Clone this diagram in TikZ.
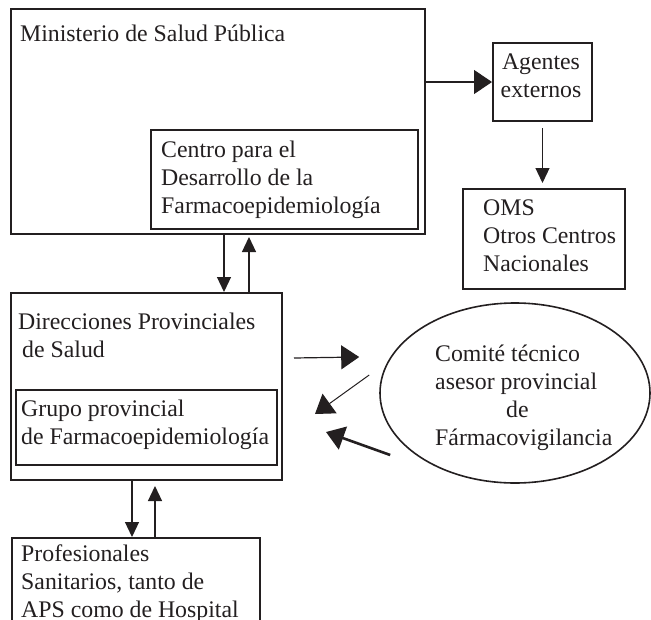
\documentclass[tikz,border=0pt]{standalone}
\usepackage{fontspec}
\setmainfont{Liberation Serif}
\usetikzlibrary{arrows.meta, calc, shapes.geometric}
\definecolor{inkbox}{HTML}{231F20}
\newcommand{\orgfont}{\fontsize{23.8}{28}\selectfont}

\begin{document}
\begin{tikzpicture}[x=1pt, y=-1pt,
    orgbox/.style={draw=inkbox, line width=2pt, inner sep=0pt, anchor=north west},
    orgtext/.style={font=\orgfont, text=inkbox, align=left, inner sep=0pt, anchor=base west},
    link/.style={draw=inkbox, line width=1.2pt},
    smallhead/.style={-{Triangle[length=15pt, width=14pt]}},
    bighead/.style={-{Triangle[length=18pt, width=24pt]}}]
  \useasboundingbox (0,0) rectangle (651,619);
  \clip (0,0) rectangle (651,619);
  % boxes
  \node[orgbox, minimum width=414pt, minimum height=225pt] (min) at (10,8) {};
  \node[orgbox, minimum width=267pt, minimum height=99pt] (cen) at (150,129) {};
  \node[orgbox, minimum width=99pt, minimum height=78pt] (age) at (492,42) {};
  \node[orgbox, minimum width=162pt, minimum height=100pt] (oms) at (462,188) {};
  \node[orgbox, minimum width=271pt, minimum height=187pt] (dir) at (10,292) {};
  \node[orgbox, minimum width=261pt, minimum height=75pt] (gru) at (15,389) {};
  \node[orgbox, minimum width=248pt, minimum height=110pt] (pro) at (11,537) {};
  \node[ellipse, draw=inkbox, line width=1.6pt, minimum width=270pt, minimum height=180pt] (ell) at (515,393) {};
  % texts (anchored on the baseline of the last line)
  \node[orgtext] (minT) at (20,41) {Ministerio de Salud Pública};
  \node[orgtext] (cenT) at (161,213) {Centro para el\\Desarrollo de la\\Farmacoepidemiología};
  \node[orgtext, align=center, anchor=base] (ageT) at (541,97) {Agentes\\externos};
  \node[orgtext] (omsT) at (483,271) {OMS\\Otros Centros\\Nacionales};
  \node[orgtext] (dirT) at (18,357) {Direcciones Provinciales\\\hspace*{4pt}de Salud};
  \node[orgtext] (gruT) at (21,444) {Grupo provincial\\de Farmacoepidemiología};
  \node[orgtext] (ellT) at (435,445) {Comité técnico\\asesor provincial\\\hspace*{71pt}de\\Fármacovigilancia};
  \node[orgtext] (proT) at (21,617) {Profesionales\\Sanitarios, tanto de\\APS como de Hospital};
  % connectors
  \draw[link, bighead] (min.east |- age.west) -- (age.west);
  \draw[link, smallhead] ([yshift=-6pt]age.south) -- ([yshift=5pt]age.south |- oms.north);
  \draw[link, smallhead] ([xshift=6pt]min.south) -- ([xshift=6pt]min.south |- dir.north);
  \draw[link, smallhead] ([xshift=31pt]min.south |- dir.north) -- ([xshift=31pt, yshift=-2pt]min.south);
  \draw[link, smallhead] ([xshift=-14.5pt]dir.south) -- ([xshift=-14.5pt]dir.south |- pro.north);
  \draw[link, smallhead] ([xshift=8.5pt]dir.south |- pro.north) -- ([xshift=8.5pt, yshift=-5pt]dir.south);
  \draw[link, bighead] ($(dir.east)+(11,-28.5)$) -- ($(ell.west)+(-20,-36)$);
  \draw[link, line width=1pt, bighead] ($(ell.west)+(-10,-18)$) -- ($(gru.east)+(37,-13.5)$);
  \draw[link, line width=2.6pt, bighead] ($(ell.west)+(11,62)$) -- ($(gru.east)+(48,4.5)$);
\end{tikzpicture}
\end{document}
